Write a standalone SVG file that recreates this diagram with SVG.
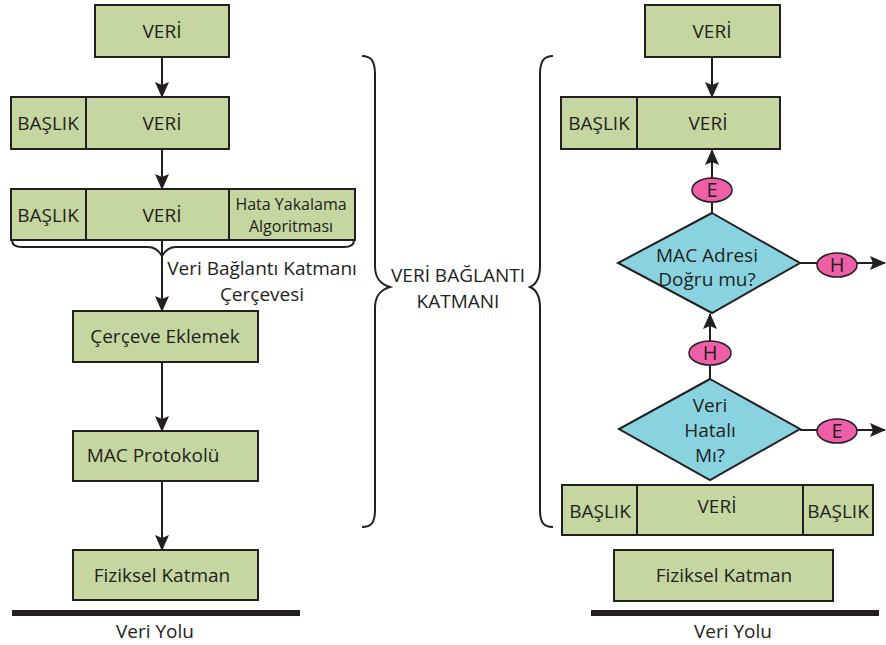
<svg xmlns="http://www.w3.org/2000/svg" width="886" height="645" viewBox="0 0 886 645">
  <defs>
    <marker id="arrow" viewBox="0 0 16 14" refX="15" refY="7" markerWidth="16" markerHeight="14" markerUnits="userSpaceOnUse" orient="auto">
      <path d="M0,0 L16,7 L0,14 L3,7 z" fill="#231f20"/>
    </marker>
  </defs>
  <style>
    .box { fill: #c5d6a0; stroke: #231f20; stroke-width: 2; }
    .dia { fill: #89d3e0; stroke: #231f20; stroke-width: 2; }
    .tag { fill: #ee5fa7; stroke: #231f20; stroke-width: 1.5; }
    .div { stroke: #231f20; stroke-width: 2; }
    .t { font-family: "Open Sans", "Noto Sans", sans-serif; font-size: 19px; fill: #231f20; text-anchor: middle; }
    .s { font-size: 16px; }
    .l { font-size: 20px; }
    .edge { stroke: #231f20; stroke-width: 2; fill: none; }
    .arr { marker-end: url(#arrow); }
    .brace { stroke: #231f20; stroke-width: 2; fill: none; }
    .bus { fill: #231f20; }
  </style>
  <rect width="886" height="645" fill="#ffffff"/>

  <!-- connectors -->
  <g id="connectors">
    <line class="edge arr" x1="162" y1="57" x2="162" y2="97"/>
    <line class="edge arr" x1="162" y1="149" x2="162" y2="189"/>
    <line class="edge arr" x1="162" y1="240" x2="162" y2="311"/>
    <line class="edge arr" x1="162" y1="362" x2="162" y2="431"/>
    <line class="edge arr" x1="162" y1="481" x2="162" y2="550"/>

    <line class="edge arr" x1="712" y1="57" x2="712" y2="97"/>
    <line class="edge arr" x1="712" y1="213" x2="712" y2="150"/>
    <line class="edge arr" x1="710" y1="379" x2="710" y2="314"/>
    <line class="edge arr" x1="800" y1="263" x2="885" y2="263"/>
    <line class="edge arr" x1="800" y1="430" x2="885" y2="430"/>
  </g>

  <!-- left column: encapsulation -->
  <g id="l-veri">
    <rect class="box" x="95" y="5" width="134" height="52"/>
    <text class="t" x="162" y="38">VERİ</text>
  </g>
  <g id="l-baslik-veri">
    <rect class="box" x="11" y="97" width="218" height="52"/>
    <line class="div" x1="86" y1="97" x2="86" y2="149"/>
    <text class="t" x="48" y="130">BAŞLIK</text>
    <text class="t" x="162" y="130">VERİ</text>
  </g>
  <g id="l-frame">
    <rect class="box" x="11" y="189" width="344" height="51"/>
    <line class="div" x1="86" y1="189" x2="86" y2="240"/>
    <line class="div" x1="229" y1="189" x2="229" y2="240"/>
    <text class="t" x="48" y="222">BAŞLIK</text>
    <text class="t" x="162" y="222">VERİ</text>
    <text class="t s" x="291" y="210">Hata Yakalama</text>
    <text class="t s" x="291" y="232">Algoritması</text>
  </g>
  <g id="l-frame-brace">
    <path class="brace" d="M12,240 C12,245 15,247 22,247 L148,247 C155,247 159,251 162,256 C165,251 169,247 176,247 L344,247 C351,247 354,245 354,240"/>
    <text class="t" x="262" y="275">Veri Bağlantı Katmanı</text>
    <text class="t" x="262" y="301">Çerçevesi</text>
  </g>
  <g id="l-cerceve">
    <rect class="box" x="73" y="311" width="185" height="51"/>
    <text class="t" x="165" y="343">Çerçeve Eklemek</text>
  </g>
  <g id="l-mac">
    <rect class="box" x="73" y="431" width="185" height="50"/>
    <text class="t" x="153" y="462">MAC Protokolü</text>
  </g>
  <g id="l-fiziksel">
    <rect class="box" x="73" y="550" width="185" height="50"/>
    <text class="t" x="162" y="582">Fiziksel Katman</text>
  </g>
  <g id="l-bus">
    <rect class="bus" x="12" y="610" width="288" height="6"/>
    <text class="t" x="155" y="638">Veri Yolu</text>
  </g>

  <!-- middle: layer braces -->
  <g id="layer">
    <path class="brace" d="M362,56 C371,56 375,61 375,74 L375,266 C375,278 380,284 390,287 C380,290 375,296 375,308 L375,510 C375,523 371,527 362,527"/>
    <path class="brace" d="M553,56 C544,56 540,61 540,74 L540,266 C540,278 537,284 530,287 C537,290 540,296 540,308 L540,510 C540,523 544,527 553,527"/>
    <text class="t" x="458" y="282">VERİ BAĞLANTI</text>
    <text class="t" x="458" y="308">KATMANI</text>
  </g>

  <!-- right column: decapsulation -->
  <g id="r-veri">
    <rect class="box" x="645" y="5" width="135" height="52"/>
    <text class="t" x="712" y="38">VERİ</text>
  </g>
  <g id="r-baslik-veri">
    <rect class="box" x="561" y="97" width="219" height="52"/>
    <line class="div" x1="637" y1="97" x2="637" y2="149"/>
    <text class="t" x="599" y="130">BAŞLIK</text>
    <text class="t" x="708" y="130">VERİ</text>
  </g>
  <g id="r-e1">
    <ellipse class="tag" cx="712" cy="190" rx="20" ry="12"/>
    <text class="t l" x="712" y="197">E</text>
  </g>
  <g id="r-mac-check">
    <polygon class="dia" points="712,213 800,263 712,313 618,263"/>
    <text class="t" x="707" y="262">MAC Adresi</text>
    <text class="t" x="707" y="286">Doğru mu?</text>
  </g>
  <g id="r-h1">
    <ellipse class="tag" cx="837" cy="265" rx="20" ry="12"/>
    <text class="t l" x="837" y="272">H</text>
  </g>
  <g id="r-h2">
    <ellipse class="tag" cx="710" cy="353" rx="21" ry="12"/>
    <text class="t l" x="710" y="360">H</text>
  </g>
  <g id="r-error-check">
    <polygon class="dia" points="710,379 800,429 710,480 619,429"/>
    <text class="t" x="710" y="412">Veri</text>
    <text class="t" x="710" y="437">Hatalı</text>
    <text class="t" x="710" y="462">Mı?</text>
  </g>
  <g id="r-e2">
    <ellipse class="tag" cx="837" cy="431" rx="20" ry="12"/>
    <text class="t l" x="837" y="438">E</text>
  </g>
  <g id="r-frame">
    <rect class="box" x="562" y="485" width="311" height="50"/>
    <line class="div" x1="637" y1="485" x2="637" y2="535"/>
    <line class="div" x1="803" y1="485" x2="803" y2="535"/>
    <text class="t" x="600" y="518">BAŞLIK</text>
    <text class="t" x="717" y="513">VERİ</text>
    <text class="t" x="838" y="518">BAŞLIK</text>
  </g>
  <g id="r-fiziksel">
    <rect class="box" x="614" y="550" width="219" height="51"/>
    <text class="t" x="724" y="582">Fiziksel Katman</text>
  </g>
  <g id="r-bus">
    <rect class="bus" x="591" y="610" width="288" height="6"/>
    <text class="t" x="733" y="638">Veri Yolu</text>
  </g>
</svg>
